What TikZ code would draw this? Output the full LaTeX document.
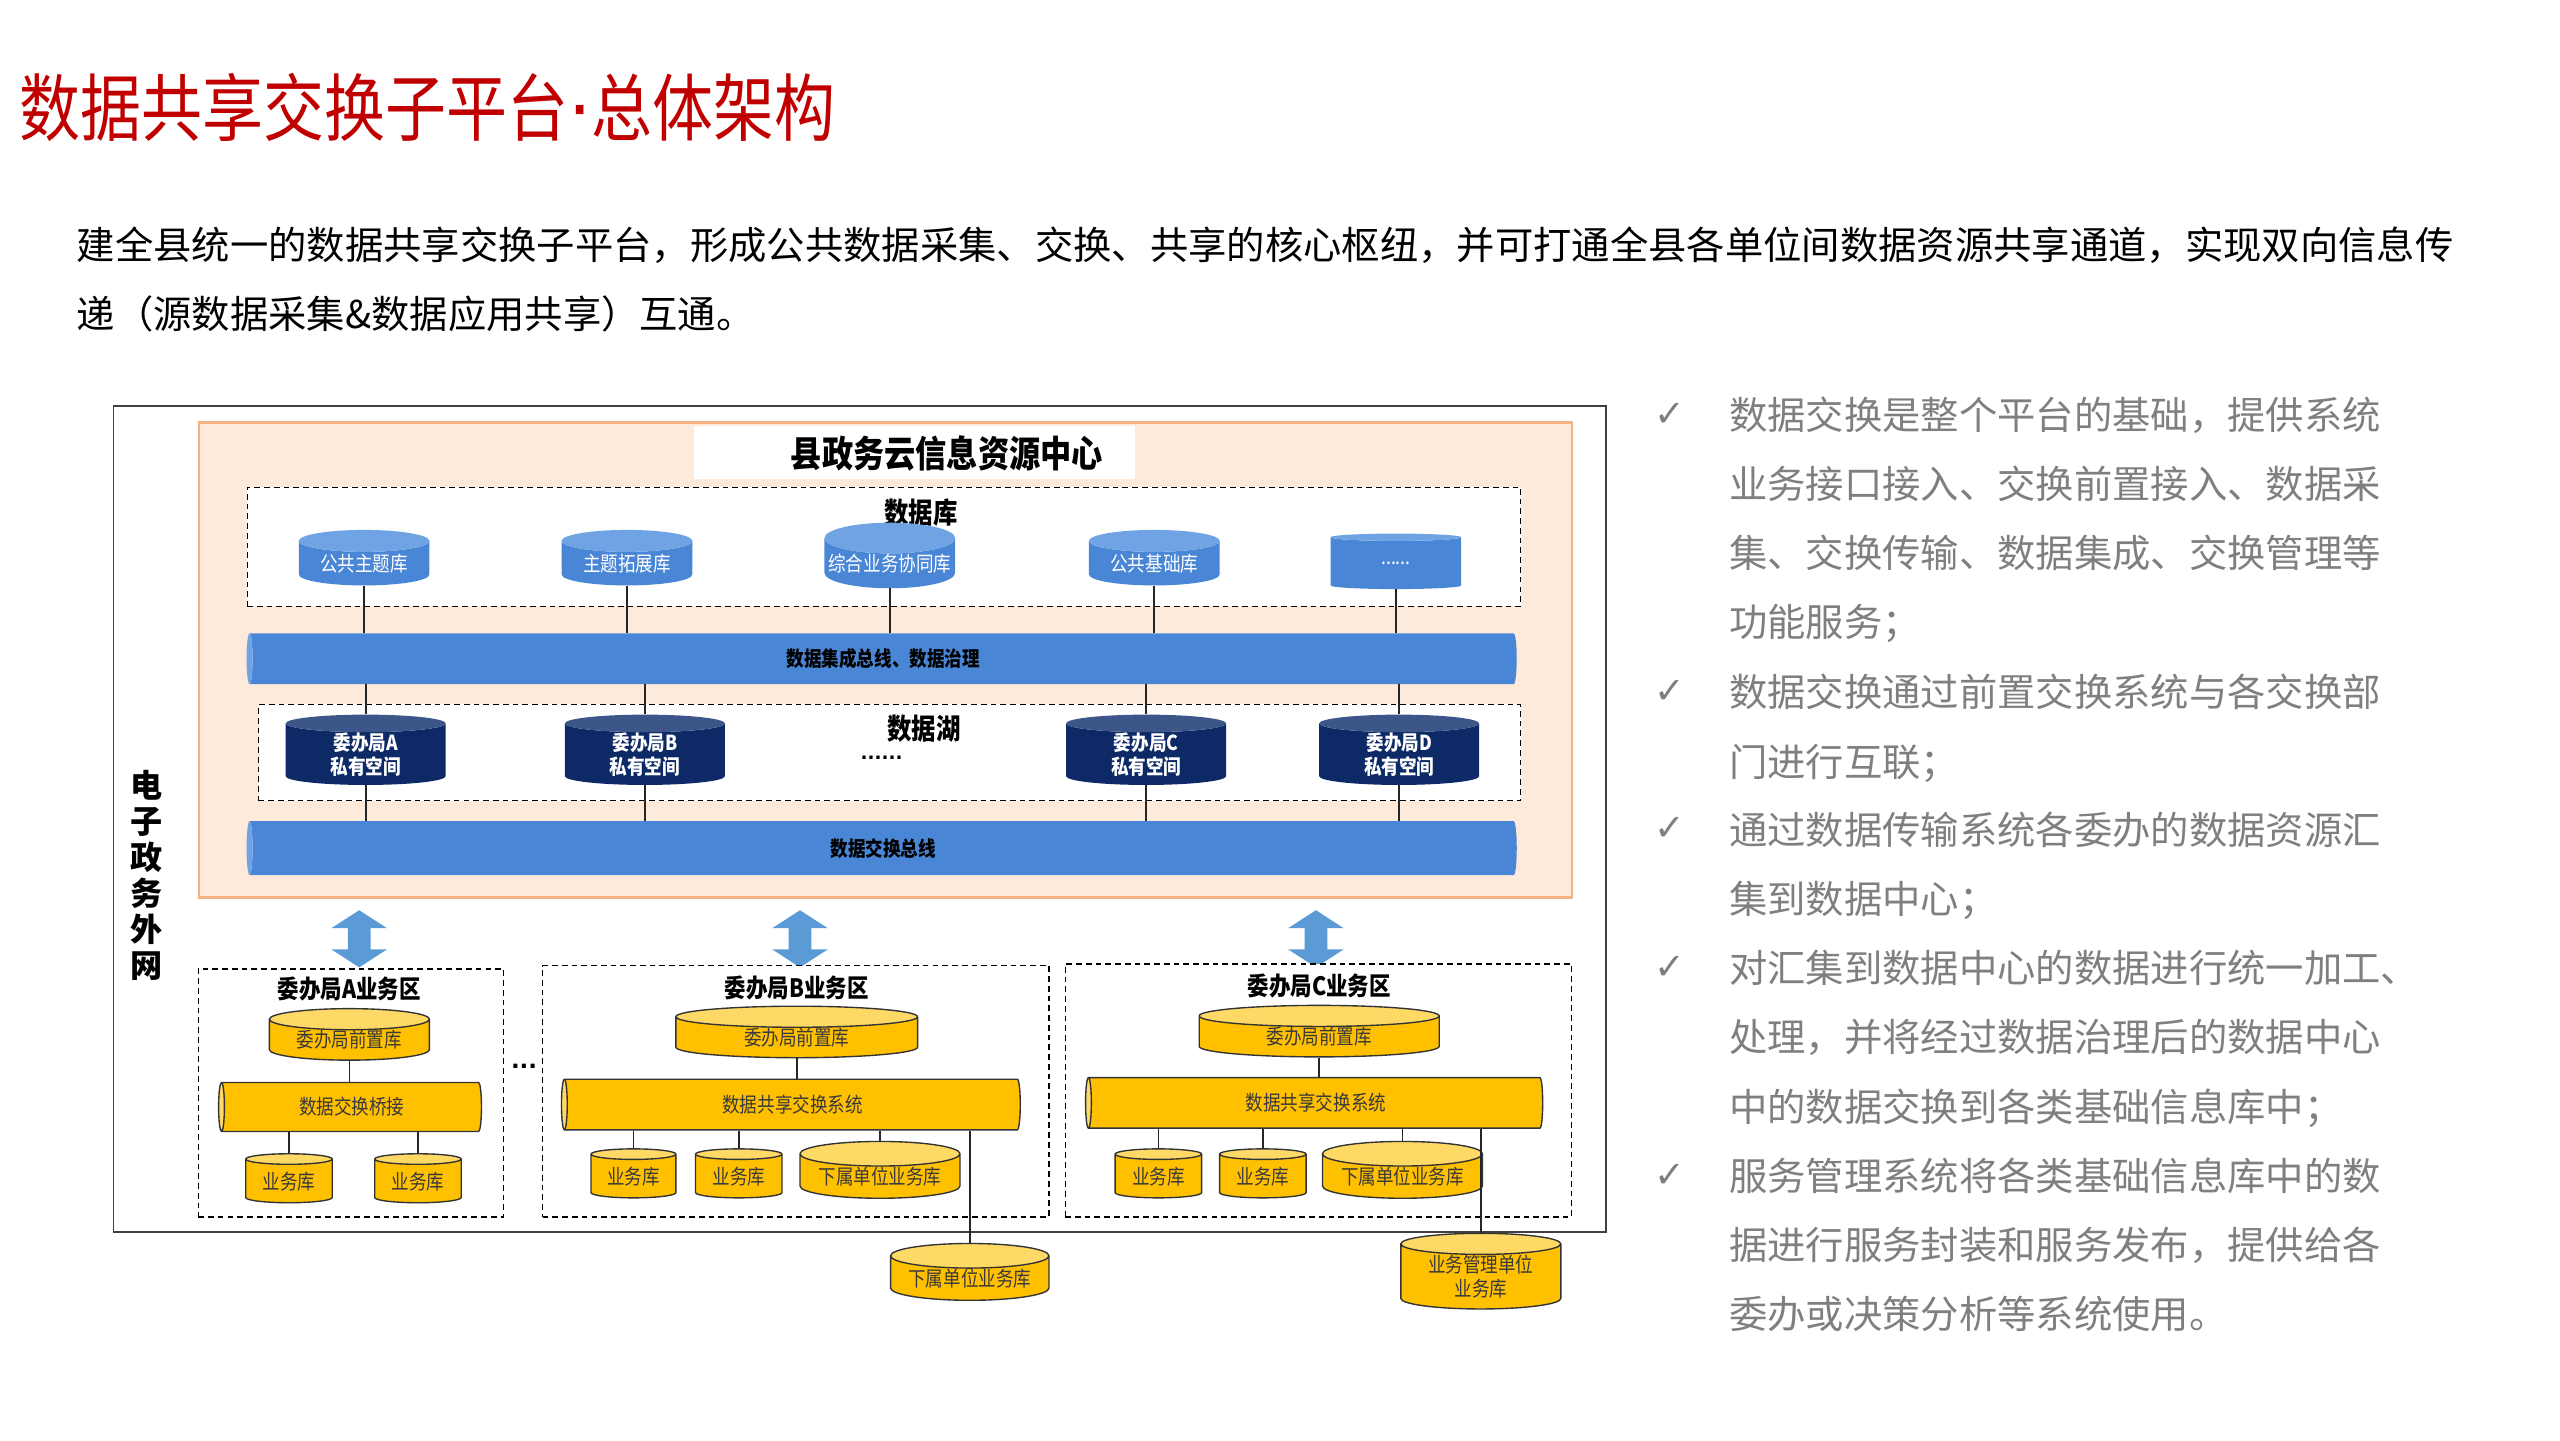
\documentclass[tikz,border=0pt]{standalone}
\usepackage{fontspec}
\setmainfont{Noto Sans CJK SC}
\newfontfamily\narrowcjk{Noto Sans CJK SC}[FakeStretch=0.85]
\newfontfamily\titlecjk{Noto Sans CJK SC}[FakeStretch=0.83]
\newfontfamily\symfont{DejaVu Sans}
\usepackage{xcolor}
\usetikzlibrary{shapes.geometric,positioning}
\definecolor{TitleRed}{HTML}{C00000}
\definecolor{BodyGray}{HTML}{7F7F7F}
\definecolor{FrameGray}{HTML}{404040}
\definecolor{PeachFill}{HTML}{FDEADA}
\definecolor{PeachLine}{HTML}{F4B183}
\definecolor{DbBlue}{HTML}{4A86D6}
\definecolor{DbBlueTop}{HTML}{6FA3E4}
\definecolor{LakeNavy}{HTML}{0E2A66}
\definecolor{LakeNavyTop}{HTML}{3C5689}
\definecolor{ZoneYellow}{HTML}{FFC000}
\definecolor{ZoneYellowTop}{HTML}{FFD966}
\definecolor{ArrowBlue}{HTML}{5B9BD5}
\definecolor{LabelDark}{HTML}{3A3A3A}

\begin{document}
\begin{tikzpicture}[x=0.5mm, y=-0.5mm,
    frame/.style={draw=FrameGray, line width=1.6pt, anchor=north west, inner sep=0pt},
    dashbox/.style={draw=black, fill=white, line width=1.2pt, dash pattern=on 5pt off 3.5pt, anchor=north west, inner sep=0pt},
    dbcyl/.style={cylinder, shape border rotate=90, aspect=0.25, draw=none, cylinder uses custom fill, cylinder body fill=DbBlue, cylinder end fill=DbBlueTop, minimum width=40mm, minimum height=17mm, inner sep=0pt, text=white, font=\narrowcjk\fontsize{18}{20}\selectfont},
    lakecyl/.style={cylinder, shape border rotate=90, aspect=0.25, draw=none, cylinder uses custom fill, cylinder body fill=LakeNavy, cylinder end fill=LakeNavyTop, minimum width=49mm, minimum height=18mm, inner sep=0pt, text=white, align=center, font=\narrowcjk\bfseries\fontsize{18}{21}\selectfont},
    bus/.style={cylinder, shape border rotate=180, aspect=0.3, draw=none, cylinder uses custom fill, cylinder body fill=DbBlue, cylinder end fill=DbBlueTop, minimum height=389mm, inner sep=0pt, font=\narrowcjk\bfseries\fontsize{18}{20}\selectfont},
    ycyl/.style={cylinder, shape border rotate=90, aspect=0.2, draw=black!80, line width=1.2pt, cylinder uses custom fill, cylinder body fill=ZoneYellow, cylinder end fill=ZoneYellowTop, minimum height=15mm, inner sep=0pt, text=LabelDark, align=center, font=\narrowcjk\fontsize{18}{21}\selectfont},
    ybus/.style={cylinder, shape border rotate=180, aspect=0.3, draw=black!80, line width=1.2pt, cylinder uses custom fill, cylinder body fill=ZoneYellow, cylinder end fill=ZoneYellowTop, minimum width=15.5mm, inner sep=0pt, text=LabelDark, font=\narrowcjk\fontsize{18}{20}\selectfont},
    zonetitle/.style={font=\narrowcjk\bfseries\fontsize{22}{24}\selectfont, inner sep=0pt},
    link/.style={draw=black!85, line width=1.4pt},
    exchangearrow/.pic={\fill[ArrowBlue] (0,-17.5) -- (17,-6.5) -- (7,-6.5) -- (7,6.5) -- (17,6.5) -- (0,17.5) -- (-17,6.5) -- (-7,6.5) -- (-7,-6.5) -- (-17,-6.5) -- cycle;},
    point/.style={text=BodyGray, anchor=base west, align=left, text width=215mm, inner sep=0pt, font=\fontsize{33.4}{60.2}\selectfont},
    tick/.style={text=BodyGray, inner sep=0pt, font=\symfont\fontsize{32}{32}\selectfont}
  ]
  \useasboundingbox (0,0) rectangle (1568,882);

  % heading and intro
  \node[anchor=west, inner sep=0pt, text=TitleRed, font=\titlecjk\fontsize{64}{72}\selectfont] (title) at (12,66) {数据共享交换子平台{\symfont·}总体架构};
  \node[anchor=west, inner sep=0pt, font=\fontsize{33.4}{40}\selectfont] (introA) at (47,150) {建全县统一的数据共享交换子平台，形成公共数据采集、交换、共享的核心枢纽，并可打通全县各单位间数据资源共享通道，实现双向信息传};
  \node[anchor=west, inner sep=0pt, font=\fontsize{33.4}{40}\selectfont] (introB) at (47,192) {递（源数据采集\&数据应用共享）互通。};

  % frames
  \node[frame, minimum width=457mm, minimum height=253mm] (net) at (69,248) {};
  \node[anchor=north west, draw=PeachLine, fill=PeachFill, line width=2.2pt, inner sep=0pt, minimum width=420.5mm, minimum height=145.5mm] (center) at (121,258) {};
  \node[anchor=north west, fill=white, inner sep=0pt, minimum width=135mm, minimum height=16mm] (centerbox) at (425,261) {};
  \node[font=\narrowcjk\bfseries\fontsize{32}{34}\selectfont, inner sep=0pt] (centertitle) at (580,278) {县政务云信息资源中心};
  \node[font=\bfseries\fontsize{28}{31.3}\selectfont, align=center, inner sep=0pt] (netlabel) at (90,536) {电\\子\\政\\务\\外\\网};

  % database layer
  \node[dashbox, minimum width=390mm, minimum height=36.5mm] (dbzone) at (151,298) {};
  \node[zonetitle, font=\narrowcjk\bfseries\fontsize{25}{27}\selectfont] (dblabel) at (564,314) {数据库};
  \node[dbcyl] (dbA) at (223,345) {公共主题库};
  \node[dbcyl] (dbB) at (384,345) {主题拓展库};
  \node[dbcyl] (dbC) at (545,345) {综合业务协同库};
  \node[dbcyl] (dbD) at (707,345) {公共基础库};
  \node[dbcyl] (dbE) at (855,345) {......};

  \node[bus, minimum width=15.5mm] (bus1) at (541,403.5) {数据集成总线、数据治理};

  % data lake layer
  \node[dashbox, minimum width=386.5mm, minimum height=29.5mm] (lakezone) at (158,431) {};
  \node[zonetitle, font=\narrowcjk\bfseries\fontsize{25}{27}\selectfont] (lakelabel) at (566,446) {数据湖};
  \node[inner sep=0pt, font=\symfont\bfseries\fontsize{16}{16}\selectfont] (lakemore) at (540,464) {......};
  \node[lakecyl] (lakeA) at (224,462) {委办局A\\私有空间};
  \node[lakecyl] (lakeB) at (395,462) {委办局B\\私有空间};
  \node[lakecyl] (lakeC) at (702,462) {委办局C\\私有空间};
  \node[lakecyl] (lakeD) at (857,462) {委办局D\\私有空间};

  \node[bus, minimum width=16.5mm] (bus2) at (541,519.5) {数据交换总线};

  \draw[link] (dbA.south) -- (dbA.south |- bus1.north);
  \draw[link] (dbB.south) -- (dbB.south |- bus1.north);
  \draw[link] (dbC.south) -- (dbC.south |- bus1.north);
  \draw[link] (dbD.south) -- (dbD.south |- bus1.north);
  \draw[link] (dbE.south) -- (dbE.south |- bus1.north);
  \draw[link] (lakeA.north |- bus1.south) -- (lakeA.north);
  \draw[link] (lakeB.north |- bus1.south) -- (lakeB.north);
  \draw[link] (lakeC.north |- bus1.south) -- (lakeC.north);
  \draw[link] (lakeD.north |- bus1.south) -- (lakeD.north);
  \draw[link] (lakeA.south) -- (lakeA.south |- bus2.north);
  \draw[link] (lakeB.south) -- (lakeB.south |- bus2.north);
  \draw[link] (lakeC.south) -- (lakeC.south |- bus2.north);
  \draw[link] (lakeD.south) -- (lakeD.south |- bus2.north);

  % exchange arrows
  \pic (arrA) at (220,575) {exchangearrow};
  \pic (arrB) at (490,575) {exchangearrow};
  \pic (arrC) at (806,575) {exchangearrow};

  % business zones
  \node[dashbox, minimum width=93.5mm, minimum height=76mm] (zoneA) at (121,593) {};
  \node[dashbox, minimum width=155mm, minimum height=77mm] (zoneB) at (332,591) {};
  \node[dashbox, minimum width=155mm, minimum height=77.5mm] (zoneC) at (652,590) {};
  \node[inner sep=0pt, font=\symfont\bfseries\fontsize{20}{20}\selectfont] (zonemore) at (321,653) {...};

  \node[zonetitle] (titleA) at (214,606) {委办局A业务区};
  \node[ycyl, minimum width=49mm] (frontA) at (214,637) {委办局前置库};
  \node[ybus, minimum width=15mm, minimum height=80.5mm] (bridgeA) at (215.5,678) {数据交换桥接};
  \node[ycyl, minimum width=26.5mm] (bizA1) at (177,723.5) {业务库};
  \node[ycyl, minimum width=26.5mm] (bizA2) at (256,723.5) {业务库};

  \node[zonetitle] (titleB) at (488,605) {委办局B业务区};
  \node[ycyl, minimum width=74mm] (frontB) at (488,635.5) {委办局前置库};
  \node[ybus, minimum height=140.5mm] (sysB) at (485.5,676.5) {数据共享交换系统};
  \node[ycyl, minimum width=26mm] (bizB1) at (388,720.5) {业务库};
  \node[ycyl, minimum width=26.5mm] (bizB2) at (452.5,720.5) {业务库};
  \node[ycyl, minimum width=49mm] (bizB3) at (539,720.5) {下属单位业务库};
  \node[ycyl, minimum width=48.5mm] (subB) at (594,783) {下属单位业务库};

  \node[zonetitle] (titleC) at (808,604) {委办局C业务区};
  \node[ycyl, minimum width=73.5mm] (frontC) at (808,635) {委办局前置库};
  \node[ybus, minimum height=140mm] (sysC) at (806,675.5) {数据共享交换系统};
  \node[ycyl, minimum width=26.5mm] (bizC1) at (709.5,720.5) {业务库};
  \node[ycyl, minimum width=26.5mm] (bizC2) at (773.5,720.5) {业务库};
  \node[ycyl, minimum width=49mm] (bizC3) at (859,720.5) {下属单位业务库};
  \node[ycyl, minimum width=49mm, minimum height=20mm] (mgmtC) at (907,782) {业务管理单位\\业务库};

  \draw[link] (frontA.south) -- (frontA.south |- bridgeA.north);
  \draw[link] (bizA1.north |- bridgeA.south) -- (bizA1.north);
  \draw[link] (bizA2.north |- bridgeA.south) -- (bizA2.north);
  \draw[link] (frontB.south) -- (frontB.south |- sysB.north);
  \draw[link] (bizB1.north |- sysB.south) -- (bizB1.north);
  \draw[link] (bizB2.north |- sysB.south) -- (bizB2.north);
  \draw[link] (bizB3.north |- sysB.south) -- (bizB3.north);
  \draw[link] (subB.north |- sysB.south) -- (subB.north);
  \draw[link] (frontC.south) -- (frontC.south |- sysC.north);
  \draw[link] (bizC1.north |- sysC.south) -- (bizC1.north);
  \draw[link] (bizC2.north |- sysC.south) -- (bizC2.north);
  \draw[link] (bizC3.north |- sysC.south) -- (bizC3.north);
  \draw[link] (mgmtC.north |- sysC.south) -- (mgmtC.north);

  % key points
  \node[tick] (tick1) at (1023,254) {✓};
  \node[point] (point1) at (1059,263) {数据交换是整个平台的基础，提供系统\\业务接口接入、交换前置接入、数据采\\集、交换传输、数据集成、交换管理等\\功能服务；};
  \node[tick] (tick2) at (1023,424) {✓};
  \node[point] (point2) at (1059,433) {数据交换通过前置交换系统与各交换部\\门进行互联；};
  \node[tick] (tick3) at (1023,508) {✓};
  \node[point] (point3) at (1059,517) {通过数据传输系统各委办的数据资源汇\\集到数据中心；};
  \node[tick] (tick4) at (1023,593) {✓};
  \node[point] (point4) at (1059,602) {对汇集到数据中心的数据进行统一加工、\\处理，并将经过数据治理后的数据中心\\中的数据交换到各类基础信息库中；};
  \node[tick] (tick5) at (1023,720) {✓};
  \node[point] (point5) at (1059,729) {服务管理系统将各类基础信息库中的数\\据进行服务封装和服务发布，提供给各\\委办或决策分析等系统使用。};
\end{tikzpicture}
\end{document}
